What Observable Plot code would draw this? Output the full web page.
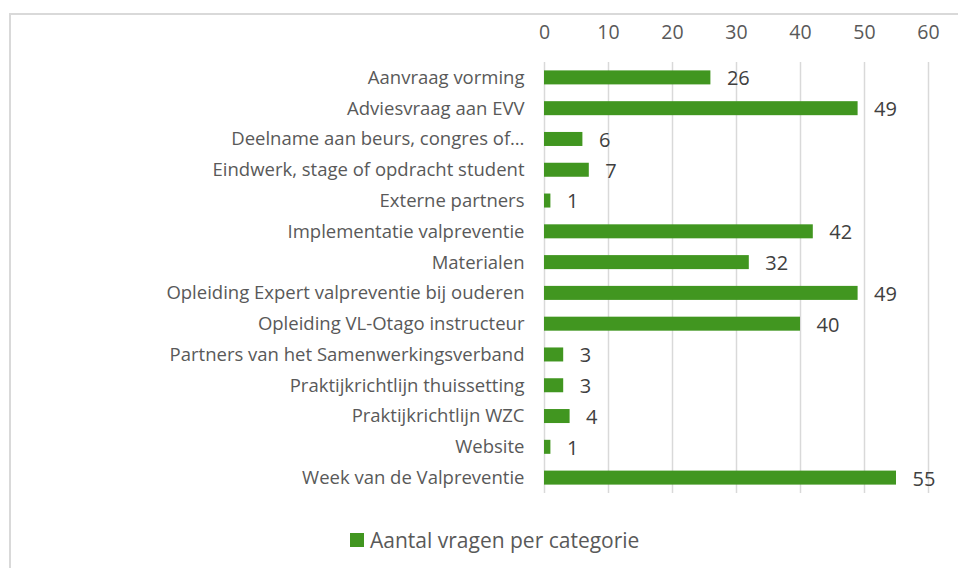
<!DOCTYPE html>
<html>
<head>
<meta charset="utf-8">
<script src="https://cdn.jsdelivr.net/npm/d3@7"></script>
<script src="https://cdn.jsdelivr.net/npm/@observablehq/plot@0.6"></script>
<style>
  html, body { margin: 0; padding: 0; background: #fff; }
  #wrap { position: relative; width: 958px; height: 568px; overflow: hidden; font-family: "Open Sans", sans-serif; }
  #frame { position: absolute; left: 9px; top: 13px; width: 960px; height: 570px; border: 2px solid #d9d9d9; box-sizing: border-box; }
  #chart { position: absolute; left: 0; top: 0; }
  #legend { position: absolute; left: 350px; top: 525px; font-size: 21px; line-height: 30px; color: #595959; display: flex; align-items: center; }
  #legend .sw { width: 14px; height: 14px; background: #419620; margin-right: 6px; }
</style>
</head>
<body>
<div id="wrap">
  <div id="frame"></div>
  <div id="chart"></div>
  <div id="legend"><span class="sw"></span><span>Aantal vragen per categorie</span></div>
</div>
<script>
const categories = [
  "Aanvraag vorming",
  "Adviesvraag aan EVV",
  "Deelname aan beurs, congres of…",
  "Eindwerk, stage of opdracht student",
  "Externe partners",
  "Implementatie valpreventie",
  "Materialen",
  "Opleiding Expert valpreventie bij ouderen",
  "Opleiding VL-Otago instructeur",
  "Partners van het Samenwerkingsverband",
  "Praktijkrichtlijn thuissetting",
  "Praktijkrichtlijn WZC",
  "Website",
  "Week van de Valpreventie"
];
const values = [26, 49, 6, 7, 1, 42, 32, 49, 40, 3, 3, 4, 1, 55];
const xTicks = [0, 10, 20, 30, 40, 50, 60];
const seriesName = "Aantal vragen per categorie";

const data = categories.map((c, i) => ({category: c, value: values[i]}));
const green = "#419620";

const chart = Plot.plot({
  width: 958,
  height: 510,
  marginLeft: 544,
  marginRight: 30,
  marginTop: 62,
  marginBottom: 17,
  style: {fontFamily: "Open Sans, sans-serif", background: "transparent", color: "#595959"},
  x: {domain: [0, 60], ticks: xTicks, axis: null, label: null},
  y: {domain: categories, paddingInner: 0.545, paddingOuter: 0.2725, round: false, axis: null, label: null},
  marks: [
    Plot.gridX(xTicks, {stroke: "#d9d9d9", strokeOpacity: 1, strokeWidth: 1.5}),
    Plot.axisX({anchor: "top", ticks: xTicks, tickSize: 0, tickPadding: 24, fontSize: 19.5, fill: "#595959", label: null}),
    Plot.axisY({anchor: "left", tickSize: 0, tickPadding: 20, fontSize: 18.5, fill: "#595959", label: null}),
    Plot.barX(data, {x: "value", y: "category", fill: green}),
    Plot.text(data, {x: "value", y: "category", text: d => String(d.value), textAnchor: "start", dx: 16, dy: 1, fontSize: 20, fill: "#404040"})
  ]
});
document.getElementById("chart").appendChild(chart);
document.getElementById("legend").lastElementChild.textContent = seriesName;
</script>
</body>
</html>
